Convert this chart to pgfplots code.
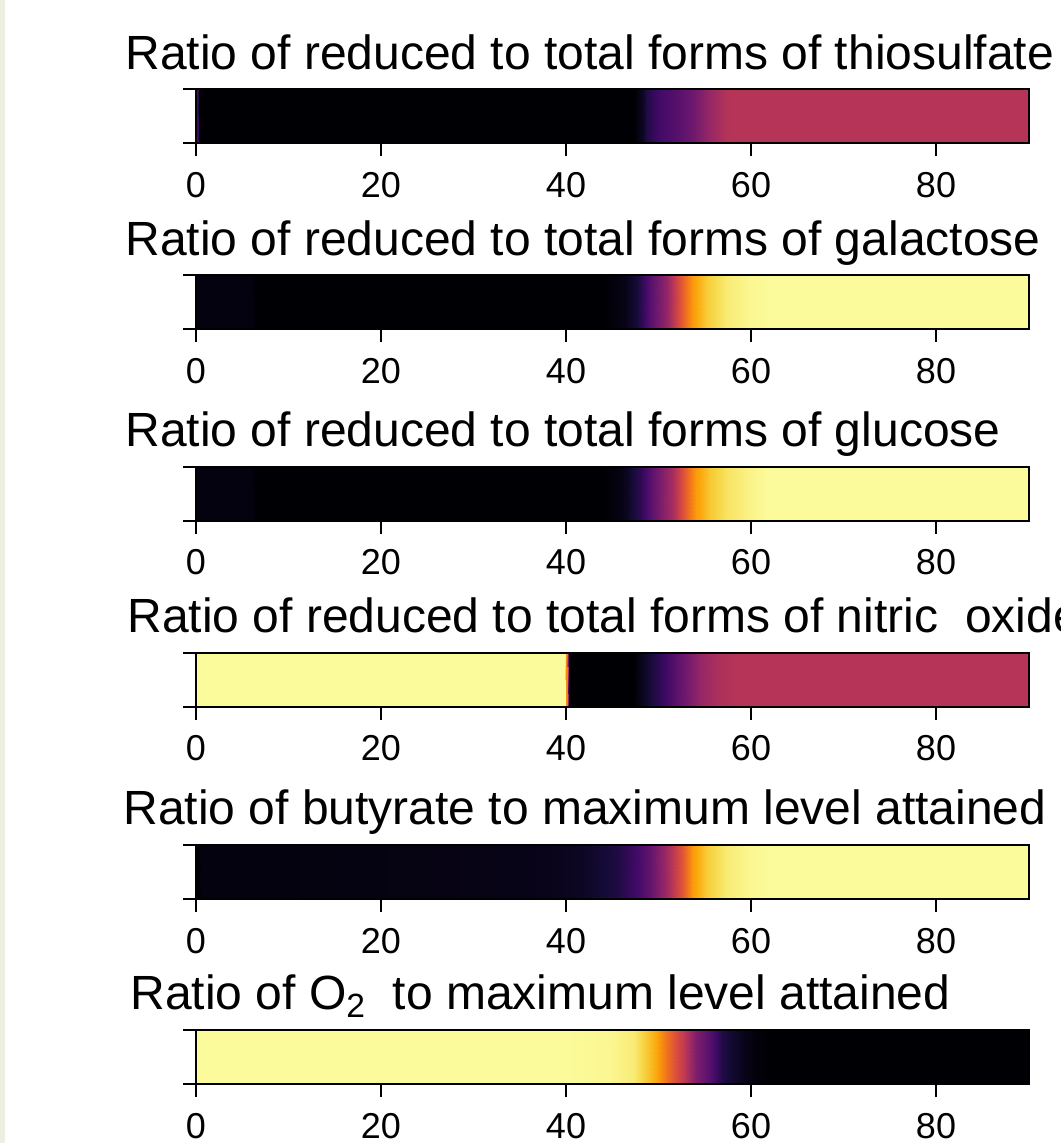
\documentclass[border=0pt]{standalone}
\usepackage{fontspec}
\setmainfont{Liberation Sans}
\usepackage{pgfplots}
\pgfplotsset{compat=1.18}
\definecolor{beige}{RGB}{239,239,225}
\pgfplotsset{colormap={inferno}{rgb255=(0,0,4) rgb255=(22,11,57) rgb255=(66,10,104) rgb255=(106,23,110) rgb255=(147,38,103) rgb255=(188,55,84) rgb255=(221,81,58) rgb255=(243,120,25) rgb255=(252,165,10) rgb255=(246,215,70) rgb255=(252,255,164)}}
\pgfplotsset{strip/.style={
  width=416.25pt, height=27pt, scale only axis,
  at={(98pt,#1)}, anchor=south west,
  xmin=0, xmax=90, ymin=0, ymax=1,
  xtick={0,20,40,60,80}, ytick={0,1}, yticklabels={},
  tick align=outside, xtick pos=left, ytick pos=left,
  major tick length=6.5pt,
  every tick/.style={black, line width=1pt},
  axis line style={line width=1pt},
  ticklabel style={font=\fontsize{18}{21}\selectfont},
  xticklabel style={yshift=-4.5pt},
  /pgf/number format/assume math mode=true,
  colormap name=inferno, point meta min=0, point meta max=1,
  axis on top,
}}
\newcommand{\tfont}{\fontsize{24}{28}\selectfont}
\begin{document}
\begin{tikzpicture}
\useasboundingbox (0,0) rectangle (530pt,571.5pt);
\clip (0,0) rectangle (530pt,571.5pt);
\fill[white] (0,0) rectangle (530pt,571.5pt);
\fill[beige] (0,0) rectangle (2.5pt,571.5pt);

% 1 thiosulfate
\begin{axis}[strip=499.85pt]
\addplot[surf, shader=interp, mesh/rows=2, point meta=explicit] table[x=x, y=y, meta=c] {
x y c
0 0 0.18
0.2 0 0.18
0.35 0 0.0
47.3 0 0.0
48.3 0 0.06
48.8 0 0.13
50 0 0.2
52 0 0.25
53.7 0 0.31
55.6 0 0.41
57.4 0 0.48
58.5 0 0.485
90 0 0.485
0 1 0.18
0.2 1 0.18
0.35 1 0.0
47.3 1 0.0
48.3 1 0.06
48.8 1 0.13
50 1 0.2
52 1 0.25
53.7 1 0.31
55.6 1 0.41
57.4 1 0.48
58.5 1 0.485
90 1 0.485
};
\end{axis}

% 2 galactose
\begin{axis}[strip=407pt]
\addplot[surf, shader=interp, mesh/rows=2, point meta=explicit] table[x=x, y=y, meta=c] {
x y c
0 0 0.02
6 0 0.02
6.5 0 0.0
44 0 0.0
45.5 0 0.02
46.5 0 0.04
47.7 0 0.1
49.1 0 0.25
50.9 0 0.4
52.3 0 0.6
53.7 0 0.78
55.2 0 0.88
57.4 0 0.95
59.9 0 0.98
62 0 0.99
90 0 0.99
0 1 0.02
6 1 0.02
6.5 1 0.0
44 1 0.0
45.5 1 0.02
46.5 1 0.04
47.7 1 0.1
49.1 1 0.25
50.9 1 0.4
52.3 1 0.6
53.7 1 0.78
55.2 1 0.88
57.4 1 0.95
59.9 1 0.98
62 1 0.99
90 1 0.99
};
\end{axis}

% 3 glucose
\begin{axis}[strip=311.15pt]
\addplot[surf, shader=interp, mesh/rows=2, point meta=explicit] table[x=x, y=y, meta=c] {
x y c
0 0 0.02
6 0 0.02
6.5 0 0.0
44 0 0.0
45.5 0 0.02
46.5 0 0.05
48 0 0.15
49.1 0 0.25
51.6 0 0.45
52.7 0 0.6
54.1 0 0.78
55.6 0 0.87
57.4 0 0.93
59.9 0 0.97
61.7 0 0.99
90 0 0.99
0 1 0.02
6 1 0.02
6.5 1 0.0
44 1 0.0
45.5 1 0.02
46.5 1 0.05
48 1 0.15
49.1 1 0.25
51.6 1 0.45
52.7 1 0.6
54.1 1 0.78
55.6 1 0.87
57.4 1 0.93
59.9 1 0.97
61.7 1 0.99
90 1 0.99
};
\end{axis}

% 4 nitric oxide
\begin{axis}[strip=218.15pt]
\addplot[surf, shader=interp, mesh/rows=2, point meta=explicit] table[x=x, y=y, meta=c] {
x y c
0 0 0.99
39.85 0 0.99
40 0 0.75
40.15 0 0.72
40.3 0 0.0
47.3 0 0.0
49.1 0 0.1
50.9 0 0.2
52.7 0 0.3
54.5 0 0.4
56.3 0 0.46
58.5 0 0.485
90 0 0.485
0 1 0.99
39.85 1 0.99
40 1 0.75
40.15 1 0.72
40.3 1 0.0
47.3 1 0.0
49.1 1 0.1
50.9 1 0.2
52.7 1 0.3
54.5 1 0.4
56.3 1 0.46
58.5 1 0.485
90 1 0.485
};
\end{axis}

% 5 butyrate
\begin{axis}[strip=122pt]
\addplot[surf, shader=interp, mesh/rows=2, point meta=explicit] table[x=x, y=y, meta=c] {
x y c
0 0 0.0
0.3 0 0.0
0.5 0 0.02
20 0 0.025
38.3 0 0.04
41.9 0 0.06
45.5 0 0.12
47.7 0 0.2
49.1 0 0.28
50.9 0 0.43
52.7 0 0.62
53.7 0 0.78
55.2 0 0.88
57.4 0 0.95
59.9 0 0.98
62 0 0.99
90 0 0.99
0 1 0.0
0.3 1 0.0
0.5 1 0.02
20 1 0.025
38.3 1 0.04
41.9 1 0.06
45.5 1 0.12
47.7 1 0.2
49.1 1 0.28
50.9 1 0.43
52.7 1 0.62
53.7 1 0.78
55.2 1 0.88
57.4 1 0.95
59.9 1 0.98
62 1 0.99
90 1 0.99
};
\end{axis}

% 6 O2
\begin{axis}[strip=29.5pt]
\addplot[surf, shader=interp, mesh/rows=2, point meta=explicit] table[x=x, y=y, meta=c] {
x y c
0 0 0.99
40 0 0.99
44.8 0 0.98
47.3 0 0.95
48.8 0 0.87
49.8 0 0.8
50.9 0 0.68
52.7 0 0.52
54.1 0 0.35
55.6 0 0.25
57 0 0.12
59.2 0 0.04
60.6 0 0.01
62 0 0.0
90 0 0.0
0 1 0.99
40 1 0.99
44.8 1 0.98
47.3 1 0.95
48.8 1 0.87
49.8 1 0.8
50.9 1 0.68
52.7 1 0.52
54.1 1 0.35
55.6 1 0.25
57 1 0.12
59.2 1 0.04
60.6 1 0.01
62 1 0.0
90 1 0.0
};
\end{axis}

\node[anchor=base west, inner sep=0, font=\tfont] at (62.5pt,536.5pt) {Ratio of reduced to total forms of thiosulfate};
\node[anchor=base west, inner sep=0, font=\tfont] at (62.5pt,443.5pt) {Ratio of reduced to total forms of galactose};
\node[anchor=base west, inner sep=0, font=\tfont] at (62.5pt,348pt) {Ratio of reduced to total forms of glucose};
\node[anchor=base west, inner sep=0, font=\tfont] at (63.5pt,255pt) {Ratio of reduced to total forms of nitric\ \ oxide};
\node[anchor=base west, inner sep=0, font=\tfont] at (61.5pt,159pt) {Ratio of butyrate to maximum level attained};
\node[anchor=base west, inner sep=0, font=\tfont] at (65pt,66.5pt) {Ratio of O\textsubscript{2}\ \ to maximum level attained};
\end{tikzpicture}
\end{document}
